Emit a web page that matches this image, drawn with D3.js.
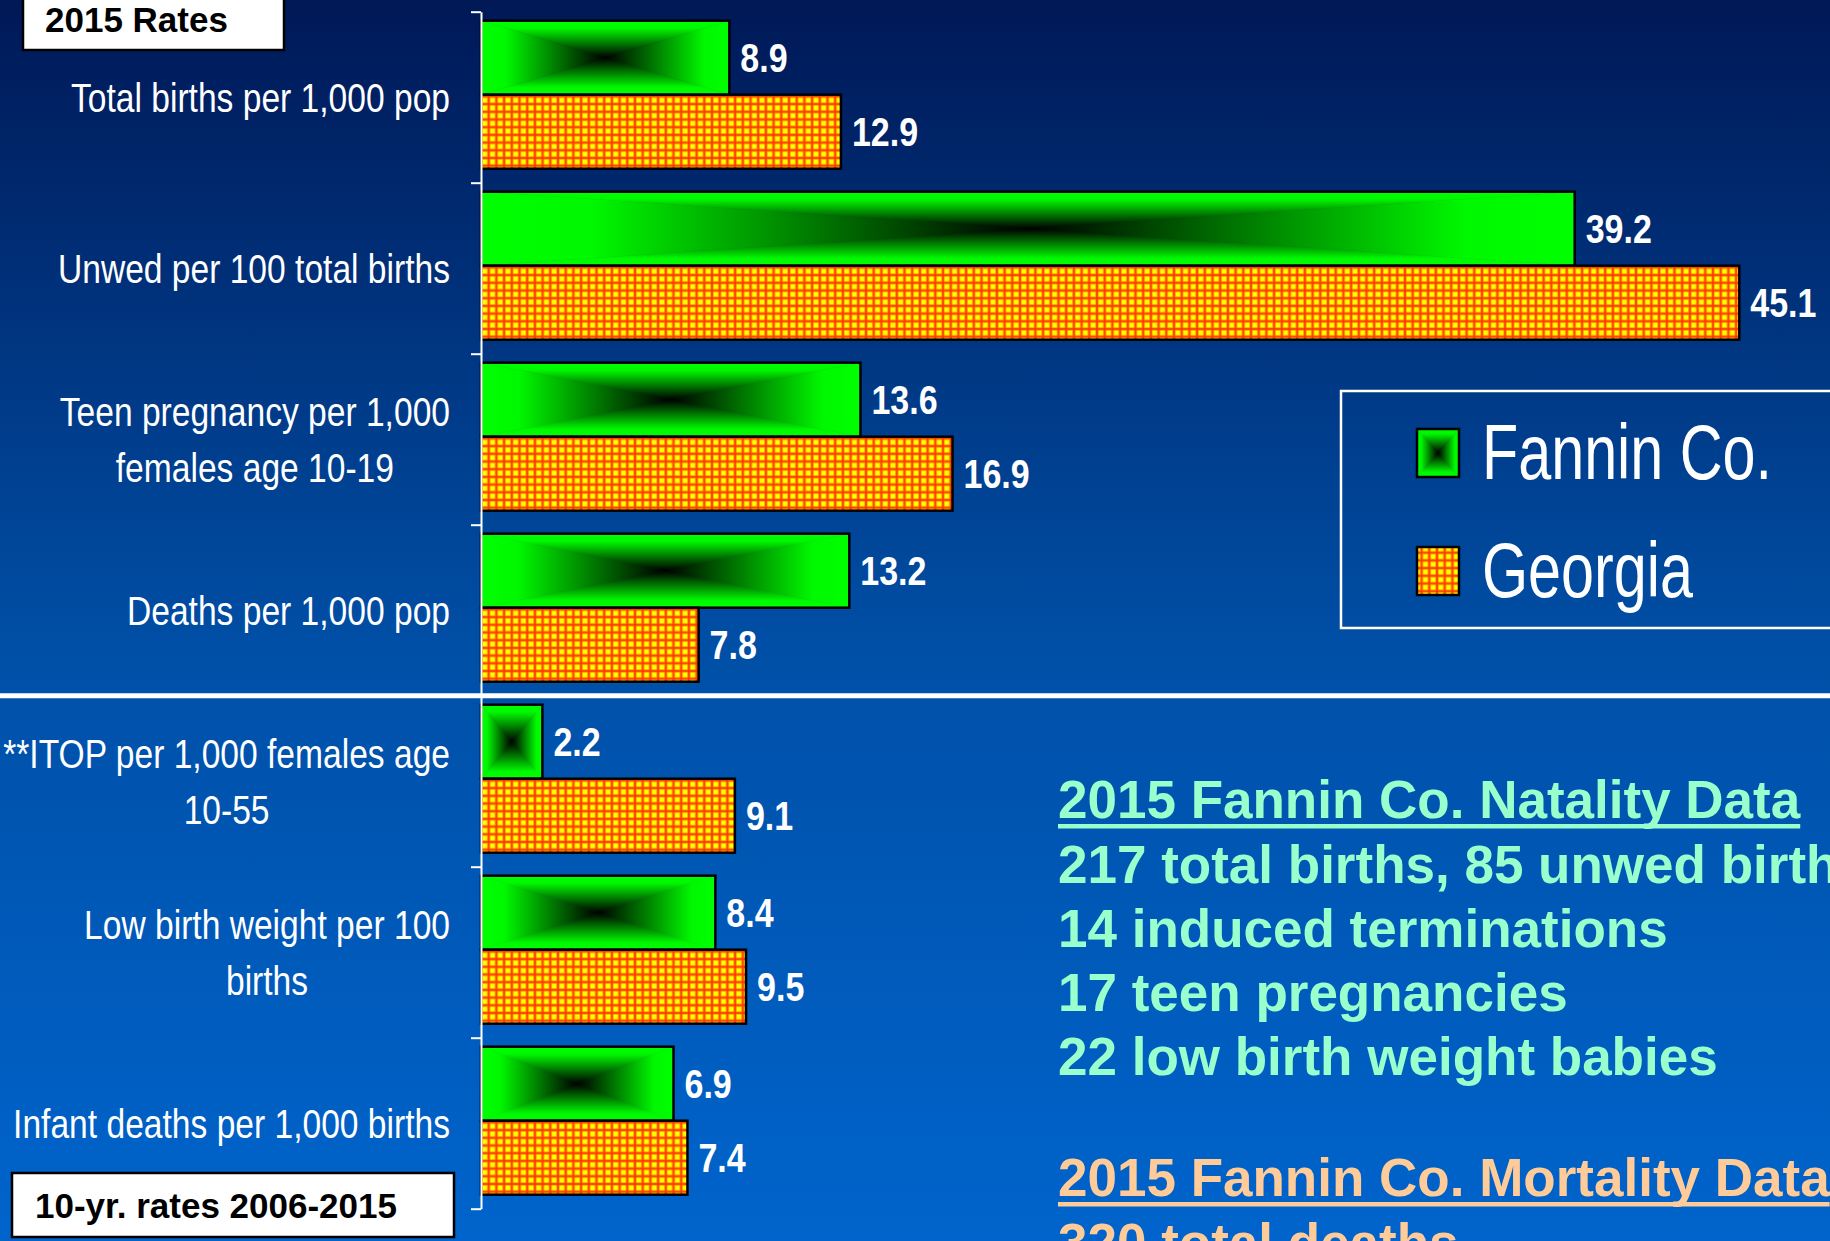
<!DOCTYPE html>
<html>
<head>
<meta charset="utf-8">
<script src="https://cdnjs.cloudflare.com/ajax/libs/d3/7.8.5/d3.min.js"></script>
<style>
  body { margin: 0; overflow: hidden; background: #0050a8; }
  text { font-family: "Liberation Sans", Arial, sans-serif; }
  .bold { font-weight: bold; }
</style>
</head>
<body>
<svg id="chart"></svg>
<script>
// chart values
var categories = [
  ["Total births per 1,000 pop"],
  ["Unwed per 100 total births"],
  ["Teen pregnancy per 1,000", "females age 10-19"],
  ["Deaths per 1,000 pop"],
  ["**ITOP per 1,000 females age", "10-55"],
  ["Low birth weight per 100", "births"],
  ["Infant deaths per 1,000 births"]
];
var seriesNames = ["Fannin Co.", "Georgia"];
var fannin = [8.9, 39.2, 13.6, 13.2, 2.2, 8.4, 6.9];
var georgia = [12.9, 45.1, 16.9, 7.8, 9.1, 9.5, 7.4];
var boxLabels = ["2015 Rates", "10-yr. rates 2006-2015"];
var natalityTitle = "2015 Fannin Co. Natality Data";
var natalityLines = ["217 total births, 85 unwed births", "14 induced terminations",
  "17 teen pregnancies", "22 low birth weight babies"];
var mortalityTitle = "2015 Fannin Co. Mortality Data";
var mortalityLines = ["320 total deaths"];

window.onload = function() {
  var W = 1830, H = 1241;
  var svg = d3.select("#chart").attr("width", W).attr("height", H);
  var defs = svg.append("defs");

  // background
  var bg = defs.append("linearGradient").attr("id", "bg")
    .attr("x1", 0).attr("y1", 0).attr("x2", 0).attr("y2", 1);
  bg.append("stop").attr("offset", 0).attr("stop-color", "#001856");
  bg.append("stop").attr("offset", 0.52).attr("stop-color", "#004fa6");
  bg.append("stop").attr("offset", 1).attr("stop-color", "#0064cc");
  svg.append("rect").attr("width", W).attr("height", H).attr("fill", "url(#bg)");

  // green "from centre" fill made of 4 triangles
  var dirs = {gT: [0, 0, 0, 1], gB: [0, 1, 0, 0], gL: [0, 0, 1, 0], gR: [1, 0, 0, 0]};
  Object.keys(dirs).forEach(function(k) {
    var d = dirs[k];
    var g = defs.append("linearGradient").attr("id", k)
      .attr("x1", d[0]).attr("y1", d[1]).attr("x2", d[2]).attr("y2", d[3]);
    g.append("stop").attr("offset", 0).attr("stop-color", "#00ff00");
    g.append("stop").attr("offset", 0.2).attr("stop-color", "#00f800");
    g.append("stop").attr("offset", 1).attr("stop-color", "#000000");
  });

  // yellow / red grid for Georgia
  var pat = defs.append("pattern").attr("id", "grid")
    .attr("patternUnits", "userSpaceOnUse")
    .attr("x", 481).attr("y", 0).attr("width", 7.7).attr("height", 7.7);
  pat.append("rect").attr("width", 7.7).attr("height", 7.7).attr("fill", "#ff2a00");
  pat.append("rect").attr("x", 0.6).attr("y", 0.6).attr("width", 6.5).attr("height", 6.5).attr("fill", "#ff8000");
  pat.append("rect").attr("x", 1.5).attr("y", 1.5).attr("width", 4.7).attr("height", 4.7).attr("fill", "#ffff00");

  function greenBar(sel, x0, y0, w, h) {
    var x1 = x0 + w, y1 = y0 + h, cx = x0 + w / 2, cy = y0 + h / 2;
    var tris = [
      ["gT", [[x0, y0], [x1, y0], [cx, cy]]],
      ["gB", [[x0, y1], [x1, y1], [cx, cy]]],
      ["gL", [[x0, y0], [x0, y1], [cx, cy]]],
      ["gR", [[x1, y0], [x1, y1], [cx, cy]]]
    ];
    tris.forEach(function(t) {
      sel.append("polygon")
        .attr("points", t[1].map(function(p) { return p.join(","); }).join(" "))
        .attr("fill", "url(#" + t[0] + ")")
        .attr("stroke", "url(#" + t[0] + ")")
        .attr("stroke-width", 0.6);
    });
    sel.append("rect").attr("x", x0).attr("y", y0).attr("width", w).attr("height", h)
      .attr("fill", "none").attr("stroke", "#000").attr("stroke-width", 2.5);
  }

  // condensed text: a group squeezed horizontally around its anchor
  function narrow(parent, tx, ty, sx) {
    return parent.append("g")
      .attr("transform", "translate(" + tx + "," + ty + ") scale(" + sx + ",1)");
  }

  // scales
  var x = d3.scaleLinear().domain([0, 50]).range([481, 1876]);
  var y = d3.scaleBand().domain(d3.range(categories.length)).range([11.7, 1208.7]);
  var ys = d3.scaleBand().domain([0, 1]).range([9, 157]);
  var yIdx = d3.scaleLinear().domain([0, categories.length]).range([11.7, 1208.7]);

  var rows = categories.map(function(c, i) {
    return {lines: c, vals: [fannin[i], georgia[i]]};
  });

  var groups = svg.selectAll("g.row").data(rows).enter().append("g")
    .attr("class", "row")
    .attr("transform", function(d, i) { return "translate(0," + y(i) + ")"; });

  var labelSx = 0.84;
  groups.each(function(d) {
    var g = d3.select(this);
    // fannin
    greenBar(g, x(0), ys(0), x(d.vals[0]) - x(0), ys.bandwidth());
    // georgia
    g.append("rect").attr("x", x(0)).attr("y", ys(1))
      .attr("width", x(d.vals[1]) - x(0)).attr("height", ys.bandwidth())
      .attr("fill", "url(#grid)").attr("stroke", "#000").attr("stroke-width", 2.5);
    // value labels
    d.vals.forEach(function(v, s) {
      narrow(g, x(v) + 11, ys(s) + ys.bandwidth() / 2, 0.85)
        .append("text").attr("class", "bold")
        .attr("dy", "0.36em")
        .attr("fill", "#fff").attr("font-size", 40)
        .text(v.toFixed(1));
    });
    // category label, lines centred, block right-aligned at x = 450
    var n = d.lines.length;
    var t = narrow(g, 450, y.bandwidth() / 2, labelSx).append("text")
      .attr("fill", "#fff").attr("font-size", 40).attr("text-anchor", "middle");
    var spans = d.lines.map(function(l, k) {
      return t.append("tspan").attr("y", (k - (n - 1) / 2) * 56)
        .attr("dy", "0.36em").text(l);
    });
    var maxW = d3.max(spans, function(s) { return s.node().getComputedTextLength(); });
    spans.forEach(function(s) { s.attr("x", -maxW / 2); });
  });

  // axis with ticks at category boundaries
  var axis = svg.append("g").attr("transform", "translate(481,0)")
    .call(d3.axisLeft(yIdx).tickValues(d3.range(categories.length + 1))
      .tickFormat("").tickSize(10).tickSizeOuter(0));
  axis.select(".domain").attr("stroke", "#fff").attr("stroke-width", 2);
  axis.selectAll(".tick line").attr("stroke", "#fff").attr("stroke-width", 2);

  // separator between the 2015 rates and 10-yr rates
  svg.append("line").attr("x1", 0).attr("x2", W)
    .attr("y1", yIdx(4)).attr("y2", yIdx(4))
    .attr("stroke", "#fff").attr("stroke-width", 5);

  // section boxes
  var boxes = [
    {x: 23, y: -3, w: 261, h: 53, tx: 45, ty: 32},
    {x: 12, y: 1173, w: 442, h: 64, tx: 35, ty: 1218}
  ];
  boxes.forEach(function(b, i) {
    svg.append("rect").attr("x", b.x).attr("y", b.y).attr("width", b.w).attr("height", b.h)
      .attr("fill", "#fff").attr("stroke", "#000").attr("stroke-width", 2.5);
    svg.append("text").attr("class", "bold").attr("x", b.tx).attr("y", b.ty)
      .attr("font-size", 35).attr("fill", "#000").text(boxLabels[i]);
  });

  // legend
  var leg = svg.append("g").attr("transform", "translate(1341,391)");
  leg.append("rect").attr("width", 520).attr("height", 237)
    .attr("fill", "none").attr("stroke", "#fff").attr("stroke-width", 2.5);
  seriesNames.forEach(function(name, i) {
    var sy = 38 + i * 118;
    var sg = leg.append("g");
    if (i === 0) greenBar(sg, 76, sy, 42, 48);
    else sg.append("rect").attr("x", 76).attr("y", sy).attr("width", 42).attr("height", 48)
      .attr("fill", "url(#grid)").attr("stroke", "#000").attr("stroke-width", 2.5);
    narrow(leg, 141, sy + 50, 0.77).append("text")
      .attr("font-size", 77).attr("fill", "#fff").text(name);
  });

  // notes on the right
  function block(title, lines, color, y0) {
    var t = svg.append("text").attr("class", "bold").attr("x", 1058).attr("y", y0)
      .attr("font-size", 53).attr("fill", color).text(title);
    var tw = t.node().getComputedTextLength();
    svg.append("rect").attr("x", 1058).attr("y", y0 + 6).attr("width", tw).attr("height", 4.5)
      .attr("fill", color);
    lines.forEach(function(l, k) {
      svg.append("text").attr("class", "bold").attr("x", 1058).attr("y", y0 + 65 + k * 64)
        .attr("font-size", 53).attr("fill", color).text(l);
    });
  }
  block(natalityTitle, natalityLines, "#99ffcc", 818);
  block(mortalityTitle, mortalityLines, "#ffcc99", 1196);
};
</script>
</body>
</html>
